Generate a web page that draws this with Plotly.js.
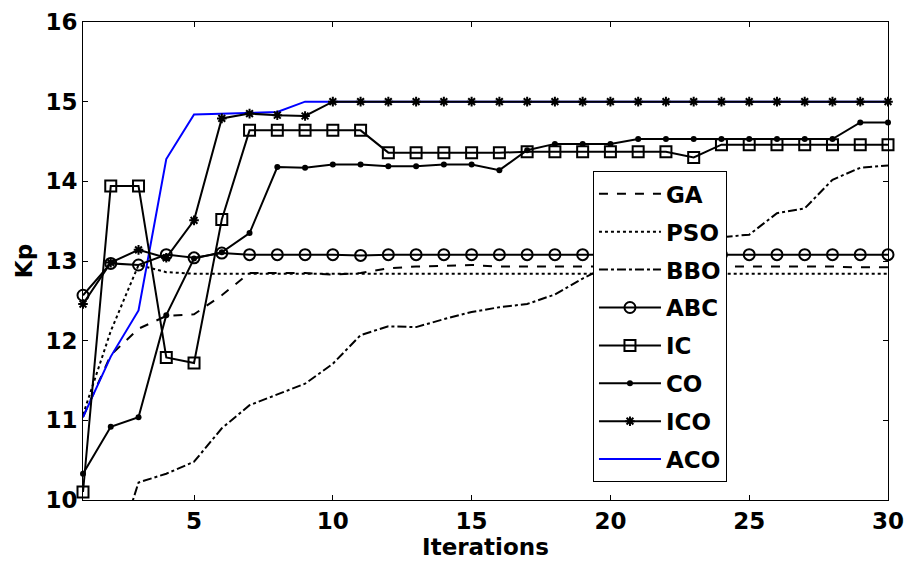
<!DOCTYPE html>
<html>
<head>
<meta charset="utf-8">
<script src="https://cdn.plot.ly/plotly-3.0.1.min.js"></script>
<style>html,body{margin:0;padding:0;background:#fff;}#chart{width:904px;height:570px;}</style>
</head>
<body>
<div id="chart"></div>
<script>
const iterations = Array.from({length: 30}, (_, i) => i + 1);
const names = ["GA", "PSO", "BBO", "ABC", "IC", "CO", "ICO", "ACO"];
const GA  = [11.04, 11.82, 12.15, 12.31, 12.33, 12.57, 12.85, 12.85, 12.85, 12.83, 12.85, 12.91, 12.93, 12.94, 12.95, 12.93, 12.93, 12.93, 12.93, 12.93, 12.93, 12.93, 12.93, 12.93, 12.93, 12.93, 12.93, 12.93, 12.92, 12.92];
const PSO = [11.07, 12.12, 12.95, 12.86, 12.84, 12.84, 12.84, 12.84, 12.84, 12.84, 12.84, 12.84, 12.84, 12.84, 12.84, 12.84, 12.84, 12.84, 12.84, 12.84, 12.84, 12.84, 12.84, 12.84, 12.84, 12.84, 12.84, 12.84, 12.84, 12.84];
const BBO = [9.0, 9.12, 10.22, 10.33, 10.48, 10.90, 11.19, 11.32, 11.46, 11.71, 12.07, 12.18, 12.17, 12.27, 12.36, 12.42, 12.46, 12.58, 12.78, 12.95, 13.10, 13.20, 13.26, 13.30, 13.33, 13.60, 13.66, 14.02, 14.17, 14.20];
const ABC = [12.57, 12.97, 12.95, 13.08, 13.04, 13.10, 13.08, 13.08, 13.08, 13.08, 13.07, 13.08, 13.08, 13.08, 13.08, 13.08, 13.08, 13.08, 13.08, 13.08, 13.08, 13.08, 13.08, 13.08, 13.08, 13.08, 13.08, 13.08, 13.08, 13.08];
const IC  = [10.10, 13.94, 13.94, 11.79, 11.72, 13.52, 14.64, 14.64, 14.64, 14.64, 14.64, 14.36, 14.36, 14.36, 14.36, 14.36, 14.37, 14.37, 14.37, 14.37, 14.37, 14.37, 14.30, 14.46, 14.46, 14.46, 14.46, 14.46, 14.46, 14.46];
const CO  = [10.33, 10.92, 11.04, 12.32, 13.03, 13.11, 13.35, 14.18, 14.17, 14.21, 14.21, 14.19, 14.19, 14.21, 14.21, 14.14, 14.39, 14.47, 14.47, 14.47, 14.53, 14.53, 14.53, 14.53, 14.53, 14.53, 14.53, 14.53, 14.74, 14.74];
const ICO = [12.46, 12.98, 13.14, 13.04, 13.51, 14.79, 14.85, 14.83, 14.82, 15.00, 15.00, 15.00, 15.00, 15.00, 15.00, 15.00, 15.00, 15.00, 15.00, 15.00, 15.00, 15.00, 15.00, 15.00, 15.00, 15.00, 15.00, 15.00, 15.00, 15.00];
const ACO = [11.04, 11.80, 12.38, 14.28, 14.84, 14.85, 14.86, 14.87, 15.00, 15.00, 15.00, 15.00, 15.00, 15.00, 15.00, 15.00, 15.00, 15.00, 15.00, 15.00, 15.00, 15.00, 15.00, 15.00, 15.00, 15.00, 15.00, 15.00, 15.00, 15.00];
const xTicks = [5, 10, 15, 20, 25, 30];
const yTicks = [10, 11, 12, 13, 14, 15, 16];

const FONT = "'DejaVu Sans', 'Liberation Sans', Arial, sans-serif";
function tr(name, y, rank, line, marker) {
  const t = {
    x: iterations, y: y, name: name, type: 'scatter',
    mode: marker ? 'lines+markers' : 'lines',
    line: line, legendrank: rank, legendgroup: name,
    cliponaxis: marker ? false : true
  };
  if (marker) t.marker = marker;
  return t;
}
const data = [
  tr(names[0], GA, 1, {color: '#000', width: 2, dash: 'dash'}),
  tr(names[1], PSO, 2, {color: '#000', width: 2, dash: 'dot'}),
  tr(names[2], BBO, 3, {color: '#000', width: 2, dash: 'dashdot'}),
  tr(names[7], ACO, 8, {color: '#0000ff', width: 2}),
  tr(names[3], ABC, 4, {color: '#000', width: 2}, {symbol: 'circle-open', size: 11, color: '#000', line: {width: 2, color: '#000'}}),
  tr(names[4], IC, 5, {color: '#000', width: 2}, {symbol: 'square-open', size: 11, color: '#000', line: {width: 2, color: '#000'}}),
  tr(names[5], CO, 6, {color: '#000', width: 2}, {symbol: 'circle', size: 6, color: '#000'}),
  tr(names[6], ICO, 7, {color: '#000', width: 2}, {symbol: 'asterisk-open', size: 8, color: '#000', line: {width: 2, color: '#000'}})
];

const axisCommon = {
  showline: true, linecolor: '#000', linewidth: 1, mirror: 'ticks',
  ticks: 'inside', ticklen: 5, tickcolor: '#000', tickwidth: 1,
  showgrid: false, zeroline: false, ticklabeloverflow: 'allow',
  tickfont: {family: FONT, size: 23, color: '#000', weight: 'bold'}
};
const layout = {
  width: 904, height: 570,
  margin: {l: 83, r: 16, t: 22, b: 70},
  paper_bgcolor: '#fff', plot_bgcolor: '#fff',
  showlegend: true,
  xaxis: Object.assign({}, axisCommon, {
    range: [1, 30], tickvals: xTicks, ticktext: xTicks.map(String),
    title: {text: 'Iterations', font: {family: FONT, size: 23, color: '#000', weight: 'bold'}, standoff: 2}
  }),
  yaxis: Object.assign({}, axisCommon, {
    range: [10, 16], tickvals: yTicks, ticktext: yTicks.map(String),
    title: {text: 'Kp', font: {family: FONT, size: 23, color: '#000', weight: 'bold'}, standoff: 6}
  }),
  legend: {
    x: 0.6335, y: 0.6876, xanchor: 'left', yanchor: 'top',
    bgcolor: '#fff', bordercolor: '#000', borderwidth: 1,
    font: {family: FONT, size: 23, color: '#000', weight: 'bold'},
    tracegroupgap: 5, itemwidth: 62, traceorder: 'grouped'
  }
};
Plotly.newPlot('chart', data, layout, {displayModeBar: false, staticPlot: true});
</script>
</body>
</html>
